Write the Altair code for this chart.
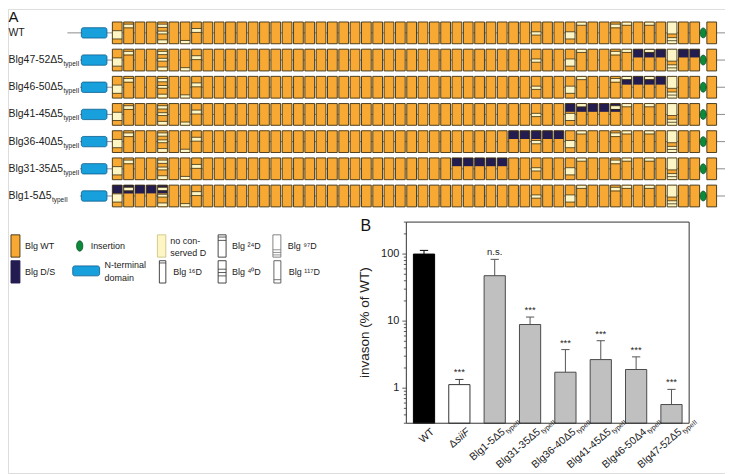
import math
import altair as alt
import pandas as pd

FONT = "Liberation Sans"

# ---------------- Panel A data: domain architecture ----------------
constructs = ["WT", "Blg47-52Δ5", "Blg46-50Δ5", "Blg41-45Δ5", "Blg36-40Δ5", "Blg31-35Δ5", "Blg1-5Δ5"]
construct_sub = ["", "typeII", "typeII", "typeII", "typeII", "typeII", "typeII"]
mutated_domains = [[], [47, 48, 49, 51, 52], [46, 47, 48, 49], [41, 42, 43, 44, 45],
                   [36, 37, 38, 39, 40], [31, 32, 33, 34, 35], [1, 2, 3, 4, 5]]
n_blg = 53
insertion_after = 52
# non-conserved D regions (fraction of domain height from top) and D marker lines
nonconserved = {1: [(0.40, 0.78)], 2: [(0.10, 0.25)], 5: [(0.10, 0.25), (0.42, 0.55), (0.82, 0.97)],
                7: [(0.85, 1.0)], 8: [(0.30, 0.48)], 38: [(0.45, 0.60)], 41: [(0.45, 0.78)],
                42: [(0.02, 0.15)], 45: [(0.10, 0.25)], 46: [(0.02, 0.14)], 48: [(0.02, 0.14)],
                50: [(0.0, 0.55), (0.72, 1.0)]}
d_marks = {1: [0.40, 0.78], 2: [0.10, 0.27], 5: [0.10, 0.25, 0.42, 0.55, 0.82], 7: [0.85],
           8: [0.30, 0.48], 38: [0.45, 0.60], 41: [0.45, 0.78], 42: [0.15], 45: [0.10, 0.27],
           46: [0.15], 48: [0.15], 50: [0.55, 0.72, 0.86]}

# ---------------- Panel B data: invasion ----------------
b_categories = ["WT", "ΔsiiF", "Blg1-5Δ5", "Blg31-35Δ5", "Blg36-40Δ5", "Blg41-45Δ5", "Blg46-50Δ4", "Blg47-52Δ5"]
b_subs = ["", "", "typeII", "typeII", "typeII", "typeII", "typeII", "typeII"]
b_values = [100, 1.13, 47.6, 8.9, 1.73, 2.67, 1.9, 0.57]
b_sd = [13.5, 0.22, 35.8, 2.6, 2.03, 2.43, 1.03, 0.39]
b_signif = ["", "***", "n.s.", "***", "***", "***", "***", "***"]
b_kind = ["wt", "del", "mut", "mut", "mut", "mut", "mut", "mut"]
y_major = [1, 10, 100]
y_minor = [0.3, 0.4, 0.5, 0.6, 0.7, 0.8, 0.9, 2, 3, 4, 5, 6, 7, 8, 9,
           20, 30, 40, 50, 60, 70, 80, 90, 200, 300]

# ---------------- colours ----------------
ORANGE = "#f7a934"
NAVY = "#231c50"
YELLOW = "#fdf5c4"
BLUE = "#18a0dc"
GREEN = "#0b8a3a"
EDGE = "#3b2f10"

# ---------------- layout helpers ----------------
W, H = 720, 466
xA = alt.Scale(domain=[1, 52], range=[109.7, 689.6])
yA = alt.Scale(domain=[0, 6], range=[24, 187.8])
xB = alt.Scale(domain=[-0.5, 7.5], range=[400, 684])
yB = alt.Scale(type="log", domain=[0.3, 300], range=[416, 214], nice=False)
STEP_B = 35.5


def u(px):  # page pixel -> panel A horizontal units
    return (px - 8 - 109.7) / 11.37 + 1


def v(py):  # page pixel -> panel A vertical units
    return (py - 8 - 24) / 27.3


CW = {"B": .667, "l": .222, "g": .556, "-": .333, "Δ": .668, "W": .944, "T": .611}


def text_w(s, size):
    return sum(CW.get(c, .556) for c in s) * size


HALF_W, HALF_H = 0.43, 0.40
LAB_FS = 10.5


def dpos(d):
    return d if d <= insertion_after else d + 0.5


def ytop(r, f):
    return r - HALF_H + f * 2 * HALF_H


base, dark, yel, lines, conn, nterm, ovals, labs, subs = [], [], [], [], [], [], [], [], []
for r, name in enumerate(constructs):
    conn.append({"x0": -3.4 if r == 0 else -2.3, "x1": 54.7, "y": r})
    nterm.append({"x0": -2.17, "x1": 0.09, "y0": r - 0.19, "y1": r + 0.19})
    ovals.append({"x": insertion_after + 0.75, "y": r})
    labs.append({"x": u(8.5), "y": r, "t": name})
    if construct_sub[r]:
        subs.append({"x": u(8.5 + text_w(name, LAB_FS) + 0.4), "y": r, "t": construct_sub[r]})
    for d in range(1, n_blg + 1):
        p = dpos(d)
        base.append({"x0": p - HALF_W, "x1": p + HALF_W, "y0": r - HALF_H, "y1": r + HALF_H})
        if d in mutated_domains[r]:
            dark.append({"x0": p - HALF_W, "x1": p + HALF_W, "y0": r - HALF_H, "y1": ytop(r, 0.38)})
        for f0, f1 in nonconserved.get(d, []):
            yel.append({"x0": p - HALF_W, "x1": p + HALF_W, "y0": ytop(r, f0), "y1": ytop(r, f1)})
        for f in d_marks.get(d, []):
            lines.append({"x0": p - HALF_W, "x1": p + HALF_W, "y": ytop(r, f)})


def encA(ch, x0="x0", x1="x1", y0="y0", y1="y1"):
    return ch.encode(x=alt.X(f"{x0}:Q", scale=xA, axis=None), x2=f"{x1}:Q",
                     y=alt.Y(f"{y0}:Q", scale=yA, axis=None), y2=f"{y1}:Q")


oval_shape = "M0,-1C0.8,-1 0.8,1 0,1C-0.8,1 -0.8,-1 0,-1Z"

A_layers = [
    alt.Chart(pd.DataFrame(conn)).mark_rule(color="#8c8c8c", strokeWidth=1).encode(
        x=alt.X("x0:Q", scale=xA, axis=None), x2="x1:Q", y=alt.Y("y:Q", scale=yA, axis=None)),
    encA(alt.Chart(pd.DataFrame(nterm)).mark_rect(fill=BLUE, stroke="#0b5c8c", strokeWidth=0.8, cornerRadius=2)),
    encA(alt.Chart(pd.DataFrame(base)).mark_rect(fill=ORANGE)),
    encA(alt.Chart(pd.DataFrame(dark)).mark_rect(fill=NAVY)),
    encA(alt.Chart(pd.DataFrame(yel)).mark_rect(fill=YELLOW)),
    alt.Chart(pd.DataFrame(lines)).mark_rule(color=EDGE, strokeWidth=0.8).encode(
        x=alt.X("x0:Q", scale=xA, axis=None), x2="x1:Q", y=alt.Y("y:Q", scale=yA, axis=None)),
    encA(alt.Chart(pd.DataFrame(base)).mark_rect(fill=None, fillOpacity=0, stroke=EDGE, strokeWidth=0.9)),
    alt.Chart(pd.DataFrame(ovals)).mark_point(shape=oval_shape, size=100, filled=True, fill=GREEN,
                                              stroke="#07451f", strokeWidth=0.7, opacity=1).encode(
        x=alt.X("x:Q", scale=xA, axis=None), y=alt.Y("y:Q", scale=yA, axis=None)),
    alt.Chart(pd.DataFrame(labs)).mark_text(align="left", baseline="middle", fontSize=LAB_FS, font=FONT,
                                            color="#222").encode(
        x=alt.X("x:Q", scale=xA, axis=None), y=alt.Y("y:Q", scale=yA, axis=None), text="t:N"),
    alt.Chart(pd.DataFrame(subs)).mark_text(align="left", baseline="middle", fontSize=6.5, font=FONT,
                                            dy=4, color="#222").encode(
        x=alt.X("x:Q", scale=xA, axis=None), y=alt.Y("y:Q", scale=yA, axis=None), text="t:N"),
]

# ---------------- Legend (panel A) ----------------
R1, R2 = v(246), v(272)
LH = 0.41
leg_boxes = [
    {"x0": u(11), "x1": u(20), "y0": R1 - LH, "y1": R1 + LH, "f": ORANGE, "s": EDGE},
    {"x0": u(11), "x1": u(20), "y0": R2 - LH, "y1": R2 + LH, "f": NAVY, "s": NAVY},
    {"x0": u(158), "x1": u(166.5), "y0": R1 - LH, "y1": R1 + LH, "f": YELLOW, "s": "#cfc684"},
    {"x0": u(160), "x1": u(166.5), "y0": R2 - LH, "y1": R2 + LH, "f": "white", "s": "#333333"},
    {"x0": u(219), "x1": u(227), "y0": R1 - LH, "y1": R1 + LH, "f": "white", "s": "#333333"},
    {"x0": u(219), "x1": u(227), "y0": R2 - LH, "y1": R2 + LH, "f": "white", "s": "#333333"},
    {"x0": u(274), "x1": u(282), "y0": R1 - LH, "y1": R1 + LH, "f": "white", "s": "#777777"},
    {"x0": u(275), "x1": u(282), "y0": R2 - LH, "y1": R2 + LH, "f": "white", "s": "#555555"},
]
leg_line_spec = [(3, [0.10]), (4, [0.10, 0.25]), (5, [0.38, 0.53, 0.68]), (6, [0.67, 0.79, 0.90]), (7, [0.85])]
leg_lines = []
for i, fs in leg_line_spec:
    b = leg_boxes[i]
    for f in fs:
        leg_lines.append({"x0": b["x0"], "x1": b["x1"], "y": b["y0"] + f * (b["y1"] - b["y0"]), "s": b["s"]})
leg_texts = [
    {"x": u(25), "y": R1, "t": "Blg WT"}, {"x": u(25), "y": R2, "t": "Blg D/S"},
    {"x": u(91), "y": R1, "t": "Insertion"},
    {"x": u(105), "y": v(265), "t": "N-terminal"}, {"x": u(105), "y": v(278), "t": "domain"},
    {"x": u(171), "y": v(241), "t": "no con-"}, {"x": u(171), "y": v(253), "t": "served D"},
    {"x": u(174), "y": R2, "t": "Blg ¹⁶D"},
    {"x": u(233), "y": R1, "t": "Blg ²⁴D"}, {"x": u(233), "y": R2, "t": "Blg ⁴⁰D"},
    {"x": u(289), "y": R1, "t": "Blg ⁹⁷D"}, {"x": u(290), "y": R2, "t": "Blg ¹¹⁷D"},
]

A_layers += [
    encA(alt.Chart(pd.DataFrame(leg_boxes)).mark_rect(strokeWidth=0.9)).encode(
        fill=alt.Fill("f:N", scale=None), stroke=alt.Stroke("s:N", scale=None)),
    alt.Chart(pd.DataFrame(leg_lines)).mark_rule(strokeWidth=0.8).encode(
        x=alt.X("x0:Q", scale=xA, axis=None), x2="x1:Q", y=alt.Y("y:Q", scale=yA, axis=None),
        color=alt.Color("s:N", scale=None)),
    encA(alt.Chart(pd.DataFrame([{"x0": u(73), "x1": u(100), "y0": v(266), "y1": v(276)}])).mark_rect(
        fill=BLUE, stroke="#0b5c8c", strokeWidth=0.8, cornerRadius=2)),
    alt.Chart(pd.DataFrame([{"x": u(80), "y": R1}])).mark_point(
        shape=oval_shape, size=110, filled=True, fill=GREEN, stroke="#07451f", strokeWidth=0.7, opacity=1).encode(
        x=alt.X("x:Q", scale=xA, axis=None), y=alt.Y("y:Q", scale=yA, axis=None)),
    alt.Chart(pd.DataFrame(leg_texts)).mark_text(align="left", baseline="middle", fontSize=9, font=FONT,
                                                 color="#222").encode(
        x=alt.X("x:Q", scale=xA, axis=None), y=alt.Y("y:Q", scale=yA, axis=None), text="t:N"),
    alt.Chart(pd.DataFrame([{"x": u(8.5), "y": v(21.5), "t": "A"}])).mark_text(
        align="left", baseline="alphabetic", fontSize=15, font=FONT, color="#111").encode(
        x=alt.X("x:Q", scale=xA, axis=None), y=alt.Y("y:Q", scale=yA, axis=None), text="t:N"),
]
panelA = alt.layer(*A_layers)

# ---------------- Panel B ----------------
fills = {"wt": "#000000", "del": "#ffffff", "mut": "#c0c0c0"}
strokes = {"wt": "#000000", "del": "#333333", "mut": "#4a4a4a"}
errc = {"wt": "#000000", "del": "#404040", "mut": "#555555"}
bdf = pd.DataFrame({
    "cat": b_categories, "idx": list(range(len(b_categories))), "value": b_values,
    "err": [a + b for a, b in zip(b_values, b_sd)], "sig": b_signif, "kind": b_kind, "sub": b_subs,
})
bdf["x0"] = bdf["idx"] - 0.3
bdf["x1"] = bdf["idx"] + 0.3
bdf["c0"] = bdf["idx"] - 0.117
bdf["c1"] = bdf["idx"] + 0.117
bdf["base"] = 0.3
bdf["fill"] = bdf["kind"].map(fills)
bdf["stroke"] = bdf["kind"].map(strokes)
bdf["ec"] = bdf["kind"].map(errc)

LEFT = -0.5
ticks = pd.DataFrame({"val": y_major + y_minor,
                      "len": [4.0] * len(y_major) + [2.5] * len(y_minor)})
ticks["x0"] = LEFT - ticks["len"] / STEP_B
ticks["x1"] = LEFT
tick_labels = pd.DataFrame({"val": y_major, "t": [f"{m:g}" for m in y_major], "x": LEFT})

bars = alt.Chart(bdf).mark_rect(strokeWidth=1).encode(
    x=alt.X("x0:Q", scale=xB, axis=None), x2="x1:Q",
    y=alt.Y("value:Q", scale=yB, axis=None), y2="base:Q",
    fill=alt.Fill("fill:N", scale=None), stroke=alt.Stroke("stroke:N", scale=None))
err_v = alt.Chart(bdf).mark_rule(strokeWidth=1).encode(
    x=alt.X("idx:Q", scale=xB, axis=None), y=alt.Y("value:Q", scale=yB, axis=None), y2="err:Q",
    color=alt.Color("ec:N", scale=None))
err_c = alt.Chart(bdf).mark_rule(strokeWidth=1).encode(
    x=alt.X("c0:Q", scale=xB, axis=None), x2="c1:Q", y=alt.Y("err:Q", scale=yB, axis=None),
    color=alt.Color("ec:N", scale=None))
sig_t = alt.Chart(bdf[bdf["sig"] != ""]).mark_text(baseline="alphabetic", dy=-4, fontSize=9.5, font=FONT,
                                                  color="#222").encode(
    x=alt.X("idx:Q", scale=xB, axis=None), y=alt.Y("err:Q", scale=yB, axis=None), text="sig:N")
frame = alt.Chart(pd.DataFrame([{"x0": -0.5, "x1": 7.5, "y0": 0.3, "y1": 300}])).mark_rect(
    fill=None, fillOpacity=0, stroke="#333333", strokeWidth=1).encode(
    x=alt.X("x0:Q", scale=xB, axis=None), x2="x1:Q", y=alt.Y("y0:Q", scale=yB, axis=None), y2="y1:Q")
tick_rules = alt.Chart(ticks).mark_rule(color="#333333", strokeWidth=0.8).encode(
    x=alt.X("x0:Q", scale=xB, axis=None), x2="x1:Q", y=alt.Y("val:Q", scale=yB, axis=None))
tick_text = alt.Chart(tick_labels).mark_text(align="right", baseline="middle", dx=-7, fontSize=11,
                                             font=FONT, color="#222").encode(
    x=alt.X("x:Q", scale=xB, axis=None), y=alt.Y("val:Q", scale=yB, axis=None), text="t:N")
y_title = alt.Chart(pd.DataFrame([{"x": LEFT - 41 / STEP_B, "y": math.sqrt(0.3 * 300),
                                   "t": "invason (% of WT)"}])).mark_text(
    angle=270, align="center", baseline="middle", fontSize=13.5, font=FONT, color="#222").encode(
    x=alt.X("x:Q", scale=xB, axis=None), y=alt.Y("y:Q", scale=yB, axis=None), text="t:N")

ANG = 319
DX, DY = 1.9, 6.5
XL_FS = 10.5
lab_main = bdf[bdf["kind"] != "del"].copy()
lab_del = bdf[bdf["kind"] == "del"].copy()
lab_del["d"] = lab_del["cat"].str[0]
lab_del["rest"] = lab_del["cat"].str[1:]
lab_sub = bdf[bdf["sub"] != ""]


def xlabel(df, field, **kw):
    return alt.Chart(df).mark_text(angle=ANG, baseline="top", font=FONT, color="#222", **kw).encode(
        x=alt.X("idx:Q", scale=xB, axis=None), y=alt.Y("base:Q", scale=yB, axis=None), text=f"{field}:N")


B_layers = [
    bars, err_v, err_c, sig_t, frame, tick_rules, tick_text, y_title,
    xlabel(lab_main, "cat", align="right", fontSize=XL_FS, dx=DX, dy=DY),
    xlabel(lab_sub, "sub", align="left", fontSize=7, dx=DX + 1, dy=DY + 4.5),
    xlabel(lab_del, "rest", align="right", fontSize=XL_FS, fontStyle="italic", dx=DX, dy=DY),
    xlabel(lab_del, "d", align="right", fontSize=XL_FS, dx=DX - 16.5, dy=DY),
    alt.Chart(pd.DataFrame([{"x": (362 - 8 - 400) / STEP_B - 0.5, "y": 220, "t": "B"}])).mark_text(
        align="left", baseline="alphabetic", fontSize=16, font=FONT, color="#111").encode(
        x=alt.X("x:Q", scale=xB, axis=None), y=alt.Y("y:Q", scale=yB, axis=None), text="t:N"),
]
panelB = alt.layer(*B_layers)

chart = alt.layer(panelA, panelB).resolve_scale(x="independent", y="independent").properties(
    width=W, height=H, padding=0, autosize=alt.AutoSizeParams(type="none"), background="white"
).configure_view(stroke=None).configure(font=FONT)

chart.save("out.html", embed_options={"renderer": "svg", "actions": False})
